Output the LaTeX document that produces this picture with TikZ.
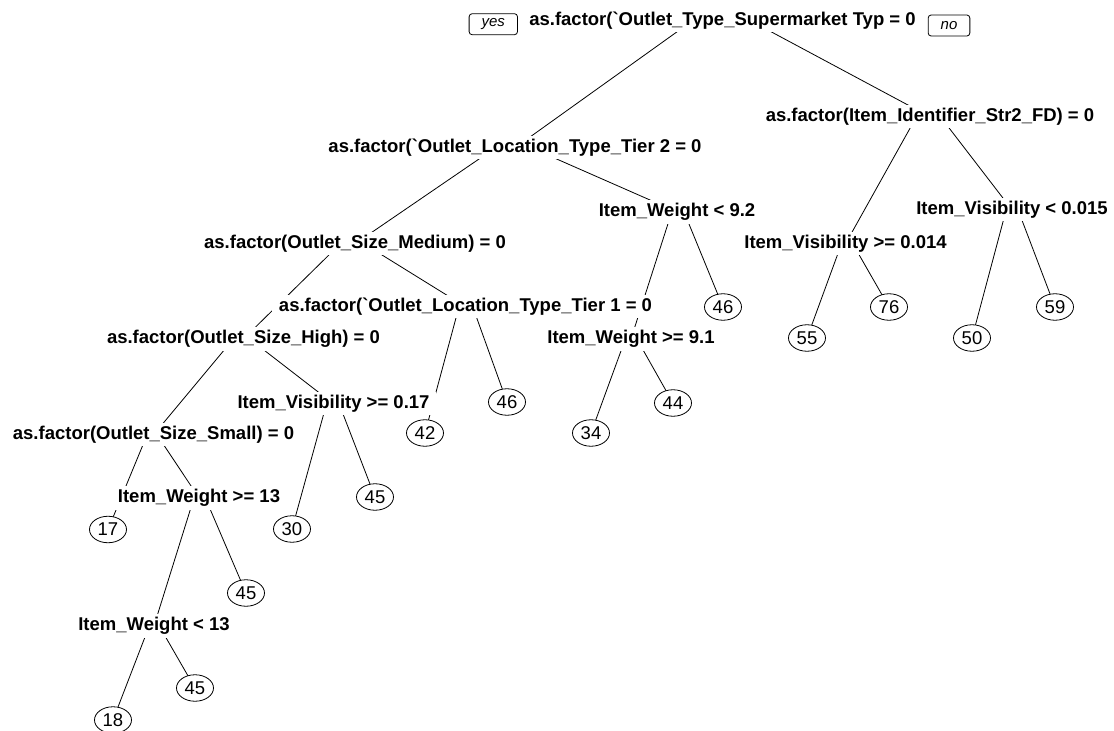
\documentclass[tikz,border=0pt]{standalone}
\usepackage{fontspec}
\newfontfamily\arialfont{Liberation Sans}
\usetikzlibrary{shapes.geometric,backgrounds}
\tikzset{
  splitlab/.style={font=\arialfont\bfseries\fontsize{18.5}{20}\selectfont, fill=white, inner xsep=7pt, inner ysep=3pt, anchor=base},
  leafbox/.style={draw, ellipse, fill=white, line width=0.8pt, minimum width=37pt, minimum height=26.5pt, inner sep=0pt, font=\arialfont\fontsize{18.5}{20}\selectfont},
  ynbox/.style={draw, rounded corners=3pt, line width=0.8pt, inner xsep=12.5pt, inner ysep=0pt, minimum height=21pt, font=\arialfont\itshape\fontsize{15}{16}\selectfont},
  branch/.style={line width=0.8pt}
}
\begin{document}
\begin{tikzpicture}[x=1pt,y=-1pt]
\useasboundingbox (0,0) rectangle (1114,731);
% split labels
\node[splitlab] (root)  at (722.5,25.6) {as.factor(\char"60 Outlet\_Type\_Supermarket Typ = 0};
\node[splitlab] (tier2) at (515,152.6) {as.factor(\char"60 Outlet\_Location\_Type\_Tier 2 = 0};
\node[splitlab] (ident) at (930,121.6) {as.factor(Item\_Identifier\_Str2\_FD) = 0};
\node[splitlab] (w92)   at (677,216.6) {Item\_Weight < 9.2};
\node[splitlab] (med)   at (355,248.6) {as.factor(Outlet\_Size\_Medium) = 0};
\node[splitlab] (tier1) at (465.5,311.6) {as.factor(\char"60 Outlet\_Location\_Type\_Tier 1 = 0};
\node[splitlab] (high)  at (243.5,343.6) {as.factor(Outlet\_Size\_High) = 0};
\node[splitlab] (w91)   at (631,343.6) {Item\_Weight >= 9.1};
\node[splitlab] (v014)  at (845.5,248.6) {Item\_Visibility >= 0.014};
\node[splitlab] (v015)  at (1012,214.6) {Item\_Visibility < 0.015};
\node[splitlab] (small) at (153.5,439.6) {as.factor(Outlet\_Size\_Small) = 0};
\node[splitlab] (v17)   at (333.5,408.6) {Item\_Visibility >= 0.17};
\node[splitlab] (w13ge) at (199,502.6) {Item\_Weight >= 13};
\node[splitlab] (w13lt) at (154,630.6) {Item\_Weight < 13};
% yes / no
\node[ynbox] (yes) at (493.3,24.2) {yes};
\node[ynbox] (no)  at (949,25.5) {no};
% leaves
\node[leafbox] (l17)  at (108,529.5) {17};
\node[leafbox] (l18)  at (113,720) {18};
\node[leafbox] (l45a) at (195,688) {45};
\node[leafbox] (l45b) at (246,593) {45};
\node[leafbox] (l30)  at (292,529) {30};
\node[leafbox] (l45c) at (375,497) {45};
\node[leafbox] (l42)  at (425,433) {42};
\node[leafbox] (l46a) at (507,402) {46};
\node[leafbox] (l34)  at (591,433) {34};
\node[leafbox] (l44)  at (673,403) {44};
\node[leafbox] (l46b) at (723,307) {46};
\node[leafbox] (l55)  at (807,338) {55};
\node[leafbox] (l76)  at (889,307) {76};
\node[leafbox] (l50)  at (972,338) {50};
\node[leafbox] (l59)  at (1055,307) {59};
% branches
\begin{pgfonlayer}{background}
\fill[white] (0,0) rectangle (1114,731);
\draw[branch] ([xshift=-30pt]root.center) -- (tier2.center);
\draw[branch] ([xshift=28pt]root.center) -- (ident.center);
\draw[branch] ([xshift=-19.5pt]tier2.center) -- (med.center);
\draw[branch] ([xshift=16pt]tier2.center) -- (w92.center);
\draw[branch] ([xshift=-13.6pt]ident.center) -- (v014.center);
\draw[branch] ([xshift=10.5pt]ident.center) -- (v015.center);
\draw[branch] ([xshift=-5.2pt]w92.center) -- (w91.center);
\draw[branch] ([xshift=7pt]w92.center) -- (l46b.center);
\draw[branch] ([xshift=-14.7pt]med.center) -- (high.center);
\draw[branch] ([xshift=9pt]med.center) -- (tier1.center);
\draw[branch] ([xshift=-6.5pt]tier1.center) -- (l42.center);
\draw[branch] ([xshift=7.2pt]tier1.center) -- (l46a.center);
\draw[branch] ([xshift=-10pt]high.center) -- (small.center);
\draw[branch] ([xshift=6pt]high.center) -- (v17.center);
\draw[branch] ([xshift=-5.6pt]w91.center) -- (l34.center);
\draw[branch] ([xshift=5.8pt]w91.center) -- (l44.center);
\draw[branch] ([xshift=-4pt]v014.center) -- (l55.center);
\draw[branch] ([xshift=7.3pt]v014.center) -- (l76.center);
\draw[branch] ([xshift=-5.8pt]v015.center) -- (l50.center);
\draw[branch] ([xshift=6pt]v015.center) -- (l59.center);
\draw[branch] ([xshift=-6.4pt]small.center) -- (l17.center);
\draw[branch] ([xshift=3.5pt]small.center) -- (w13ge.center);
\draw[branch] ([xshift=-7pt]v17.center) -- (l30.center);
\draw[branch] ([xshift=5.6pt]v17.center) -- (l45c.center);
\draw[branch] ([xshift=-5pt]w13ge.center) -- (w13lt.center);
\draw[branch] ([xshift=6.3pt]w13ge.center) -- (l45b.center);
\draw[branch] ([xshift=-4.7pt]w13lt.center) -- (l18.center);
\draw[branch] ([xshift=5.2pt]w13lt.center) -- (l45a.center);
\end{pgfonlayer}
\end{tikzpicture}
\end{document}
